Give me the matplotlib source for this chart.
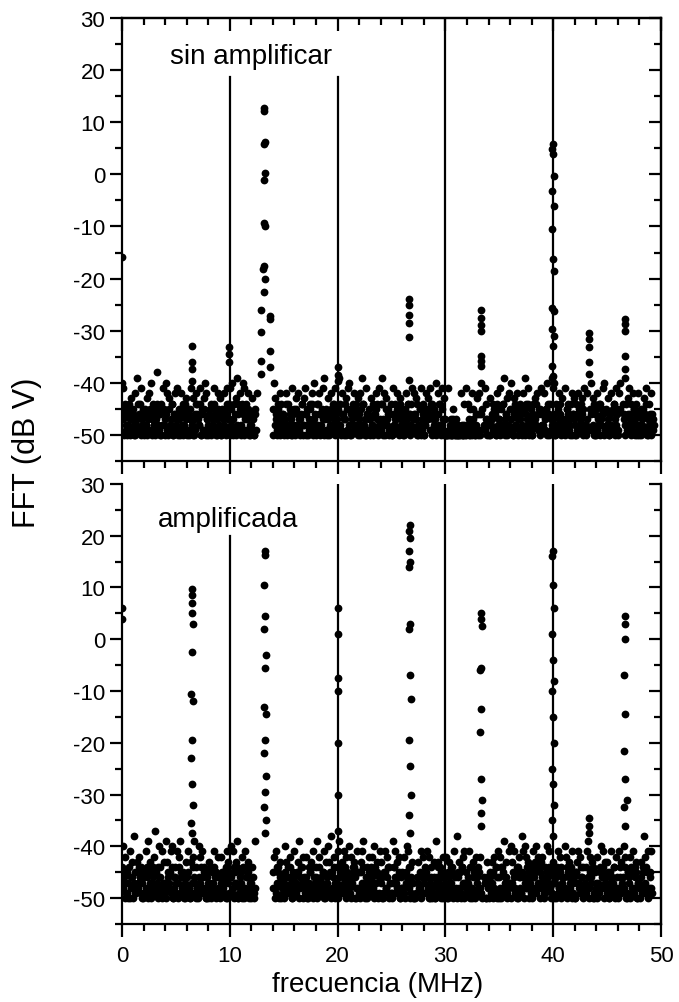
import numpy as np
import matplotlib
matplotlib.use("Agg")
from matplotlib import pyplot as plt
from matplotlib.ticker import MultipleLocator

plt.rcParams['font.family'] = ['Liberation Sans', 'DejaVu Sans']
plt.rcParams['axes.unicode_minus'] = False

# noise floor, one char per 0.1 MHz bin: value = -50 + hex digit, '.' = no point
# two readings per bin (a, b), the b set sits half a bin to the right
noise_top_a = (
    "a946205371 4082b61493 0527184a36 25c1406295 0a81726048 "
    "3915082647 1503927048 6290517a83 0416295038 2705184936 "
    "92a0617b48 05a9361840 270418.... .......... 5a73062814 "
    "0382615094 2718304627 90516283a4 0628419b35 1704826395 "
    "2b61840375 9a05284617 382b609415 0726148392 6b08273514 "
    "0926384172 5038261469 1847025936 0283749165 4a18260937 "
    "0091030520 3001820609 2605183047 1804..2963 0723614085 "
    "3916b04728 1a50728346 4081b62935 0637284159 2815a4063b "
    "9a06184273 1925630847 0648213759 28..5a1704 0836249a15 "
    "2704816395 18a..64027 9361850428 0524719036 4813......"
).replace(" ", "")

noise_top_b = (
    "3051426013 5203146025 1420351042 0362140523 4105236014 "
    "2031540263 0415203164 3260415032 1502364105 4013250613 "
    "0531402615 2640135024 1305...... .......... 0241530642 "
    "3160243015 0524136024 4203516032 1640253041 0325146023 "
    "5120436015 2043615204 0516230413 3204156023 1630524016 "
    "0423150634 2051364023 4136025014 0253416032 3014625103 "
    "0001200301 0200100210 1302051024 0415..1302 2034150623 "
    "0526134025 3104625013 1250436021 0423615042 2135064123 "
    "4021536012 0354126043 2015364021 03..142605 1260354012 "
    "3042156024 05...32614 1402536014 2035146023 0412......"
).replace(" ", "")

noise_bot_a = (
    "6a38150947 2c51738460 5194b27036 8d26a41937 3b7529a046 "
    "1938b54207 4920718b36 2a81946205 0736291548 1482530971 "
    "4a19637b02 5820946713 061b...... .......... 5829360741 "
    "3a71648205 9157b26384 2806571943 6b38215907 4a71c52836 "
    "9b62749185 3a84670295 5179b03648 2683a51749 7405928163 "
    "1b69374802 5183a92647 0.0.472918 3659180427 0b47360281 "
    "4807365291 2c57068935 1496207584 6281..4307 2537081649 "
    "0862b47139 3a75920684 1c94a82756 6947a28357 8164a39265 "
    "7350928641 4a86172935 0579384162 69b2847015 3816a59274 "
    "7503946281 2967.4a805 4851926703 3716c81592 59........"
).replace(" ", "")

noise_bot_b = (
    "2405136024 0315264130 4126035142 1530462013 0243516024 "
    "3061425031 1520364102 0436215043 2105364012 0352146035 "
    "1420536014 3061245023 1402...... .......... 2016534023 "
    "0542163024 1325046031 4103526014 0261435022 3150246013 "
    "0425136042 2103564021 0536214035 1420635014 3015246031 "
    "0364125042 2105436013 0.1.325041 1542036014 0316254023 "
    "2054136041 0425163032 3106245013 1520..3042 0413526014 "
    "2065134023 0324156042 1503264031 0425136024 3012546013 "
    "0346125032 2105436014 0532164023 1240536012 0315246031 "
    "2054136024 0413.26015 3062145032 0425136014 21........"
).replace(" ", "")

# points standing above the noise (MHz, dB V)
peaks_top_x = [0.0,
               6.5, 6.5, 6.5, 6.5,
               9.9, 9.9, 9.9,
               13.2, 13.2, 13.3, 13.2, 13.3, 13.2, 13.2, 13.3, 13.2, 13.1, 13.3, 13.2,
               12.9, 13.7, 12.9, 13.7, 12.9, 13.7, 12.9, 13.7,
               20.0, 20.0, 20.0,
               26.6, 26.6, 26.6, 26.6, 26.6, 26.6,
               33.3, 33.3, 33.3, 33.3, 33.3, 33.3, 33.3, 33.3,
               40.0, 39.9, 40.0, 40.1, 39.9, 40.1, 39.9, 40.0, 40.1, 39.9, 40.1, 39.9, 40.1, 40.0, 39.9, 40.0,
               43.3, 43.3, 43.3, 43.3, 43.3,
               46.7, 46.7, 46.7, 46.7, 46.7, 46.7]
peaks_top_y = [-15.8,
               -32.9, -36.1, -37.4, -39.7,
               -33.2, -34.5, -36.1,
               12.8, 12.2, 6.2, 5.8, 0.3, -1.0, -9.3, -10.0, -17.5, -18.2, -20.0, -22.6,
               -26.1, -27.1, -30.3, -33.9, -35.8, -37.0, -38.4, -27.8,
               -37.0, -38.5, -39.7,
               -23.9, -25.0, -27.0, -28.5, -31.3, -39.4,
               -26.1, -27.5, -29.0, -30.0, -34.8, -35.8, -36.8, -40.0,
               5.8, 4.8, 3.9, -0.3, -3.2, -6.1, -10.5, -16.3, -18.6, -25.7, -26.3, -29.7, -31.0, -33.0, -36.8, -38.7,
               -30.5, -31.5, -33.2, -36.0, -38.3,
               -27.8, -28.8, -30.0, -34.8, -37.4, -39.0]

peaks_bot_x = [0.0, 0.0,
               6.5, 6.5, 6.5, 6.5, 6.6, 6.5, 6.4, 6.6, 6.5, 6.4, 6.5, 6.6, 6.4, 6.5,
               13.3, 13.3, 13.2, 13.3, 13.2, 13.4, 13.3, 13.2, 13.4, 13.3, 13.2, 13.4, 13.3, 13.2, 13.4, 13.3,
               20.0, 20.0, 20.0, 20.0, 20.0, 20.0, 20.0,
               26.7, 26.6, 26.7, 26.6, 26.7, 26.6, 26.7, 26.6, 26.7, 26.8, 26.6, 26.7, 26.8, 26.6, 26.7,
               33.3, 33.3, 33.4, 33.3, 33.2, 33.3, 33.2, 33.3, 33.4, 33.3, 33.3,
               40.0, 39.9, 40.0, 40.1, 39.9, 40.0, 40.1, 39.9, 40.0, 40.1, 39.9, 40.0, 40.1, 39.9, 40.0,
               43.3, 43.3, 43.3,
               46.7, 46.7, 46.7, 46.6, 46.7, 46.6, 46.7, 46.8, 46.6, 46.7]
peaks_bot_y = [6.0, 4.0,
               9.8, 8.5, 7.0, 5.0, 3.0, -2.5, -10.5, -12.0, -19.5, -23.0, -28.0, -32.0, -35.5, -37.5,
               17.0, 16.2, 10.5, 4.5, 2.0, -3.0, -5.5, -13.0, -14.5, -19.5, -22.0, -26.5, -29.5, -32.5, -35.0, -37.5,
               6.0, 1.0, -7.5, -10.0, -20.0, -30.0, -37.0,
               22.0, 21.0, 19.5, 17.0, 15.0, 14.0, 3.0, 2.0, -7.0, -11.5, -19.5, -24.5, -30.0, -34.0, -37.5,
               5.0, 4.0, 2.5, -5.5, -6.0, -13.5, -18.0, -27.0, -31.0, -33.5, -36.0,
               17.0, 16.0, 10.5, 6.0, 1.0, -4.0, -8.0, -10.0, -15.0, -20.0, -25.0, -28.0, -32.0, -35.0, -38.0,
               -34.5, -36.0, -37.5,
               4.5, 3.0, 0.0, -7.0, -14.5, -21.5, -27.0, -31.0, -32.5, -36.0]

panel_labels = ["sin amplificar", "amplificada"]
line_freqs = [10, 20, 30, 40]
line_tops = [[18.7, 18.7, 30, 30], [20, 30, 30, 30]]


def parse(s):
    return np.array([np.nan if c == '.' else -50 + int(c, 16) for c in s], dtype=float)


def style_ticks(axis_obj, direction):
    axis_obj.tick_params(which='both', direction=direction, width=1.6)
    axis_obj.tick_params(which='major', length=9)
    axis_obj.tick_params(which='minor', length=5)


fig = plt.figure(figsize=(6.79, 10.03), dpi=100)
ax1 = fig.add_axes([0.1797, 0.5394, 0.7938, 0.4416])
ax2 = fig.add_axes([0.1797, 0.0778, 0.7938, 0.4387])

panels = [(ax1, noise_top_a, noise_top_b, peaks_top_x, peaks_top_y, (12.0, 22.7)),
          (ax2, noise_bot_a, noise_bot_b, peaks_bot_x, peaks_bot_y, (9.8, 23.2))]

for i, (ax, na, nb, px, py, txt) in enumerate(panels):
    ya = parse(na)
    yb = parse(nb)
    xa = 0.1 * np.arange(len(ya))
    xb = 0.05 + 0.1 * np.arange(len(yb))
    for f, top in zip(line_freqs, line_tops[i]):
        ax.plot([f, f], [-55, top], color='k', lw=1.6, zorder=1)
    ax.plot(xa, ya, 'o', ms=5.6, mew=0, color='k', zorder=2)
    ax.plot(xb, yb, 'o', ms=5.6, mew=0, color='k', zorder=2)
    ax.plot(px, py, 'o', ms=5.6, mew=0, color='k', zorder=2)
    ax.text(txt[0], txt[1], panel_labels[i], fontsize=20, ha='center', va='center')

    ax.set_xlim(0, 50)
    ax.set_ylim(-55, 30)
    ax.xaxis.set_major_locator(MultipleLocator(10))
    ax.xaxis.set_minor_locator(MultipleLocator(2))
    ax.yaxis.set_major_locator(MultipleLocator(10))
    ax.yaxis.set_minor_locator(MultipleLocator(5))
    style_ticks(ax, 'out')
    ax.tick_params(labelsize=16, top=False, right=False)
    ax.tick_params(axis='y', pad=3)
    ax.tick_params(axis='x', pad=6)
    for sp in ax.spines.values():
        sp.set_linewidth(1.6)

    sec_y = ax.secondary_yaxis('right')
    sec_y.yaxis.set_major_locator(MultipleLocator(10))
    sec_y.yaxis.set_minor_locator(MultipleLocator(5))
    style_ticks(sec_y, 'in')
    sec_y.tick_params(labelright=False)
    sec_y.spines['right'].set_linewidth(1.6)

ax1.tick_params(labelbottom=False)
sec_x = ax1.secondary_xaxis('top')
sec_x.xaxis.set_major_locator(MultipleLocator(10))
sec_x.xaxis.set_minor_locator(MultipleLocator(2))
style_ticks(sec_x, 'in')
sec_x.tick_params(labeltop=False)
sec_x.spines['top'].set_linewidth(1.6)

ax2.spines['top'].set_visible(False)

fig.text(0.04, 0.549, "FFT (dB V)", rotation=90, fontsize=22, ha='center', va='center')
fig.text(0.556, 0.018, "frecuencia (MHz)", fontsize=20, ha='center', va='center')

fig.savefig("out.png", dpi=100)
